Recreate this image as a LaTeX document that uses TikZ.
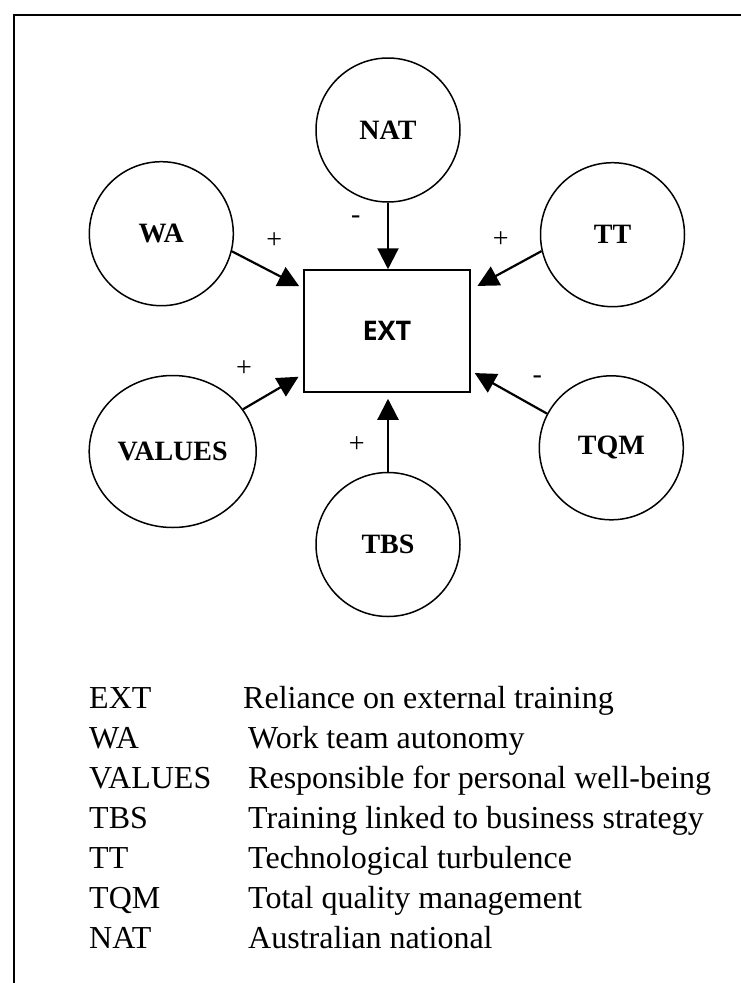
\documentclass[tikz,border=0pt]{standalone}
\usepackage{fontspec}
\setmainfont{Liberation Serif}
\newfontfamily\boxfont{Open Sans}
\usetikzlibrary{arrows.meta,shapes.geometric}

\tikzset{
  factor/.style={draw, circle, line width=1.5pt, minimum size=144pt, inner sep=0pt,
    font=\fontsize{28}{30}\selectfont\bfseries},
  factorwide/.style={draw, ellipse, line width=1.5pt, minimum width=167pt,
    minimum height=152pt, inner sep=0pt, font=\fontsize{28}{30}\selectfont\bfseries},
  target/.style={draw, rectangle, line width=1.5pt, minimum width=166pt,
    minimum height=122pt, inner sep=0pt, font=\boxfont\fontsize{27}{30}\selectfont\bfseries},
  effect/.style={-{Triangle[length=21pt,width=21pt]}, line width=2.2pt},
  sign/.style={font=\fontsize{28}{30}\selectfont, inner sep=0pt},
  abbr/.style={anchor=base west, inner sep=0pt, font=\fontsize{32}{34}\selectfont},
  descr/.style={anchor=base west, inner sep=0pt, font=\fontsize{32}{34}\selectfont},
}

\begin{document}
\begin{tikzpicture}[x=1pt,y=-1pt]
  \useasboundingbox (0,0) rectangle (741,983);

  % open frame: top and left edges only
  \draw[line width=1.8pt] (14,983) -- (14,15) -- (741,15);

  % central construct and its antecedents
  \node[target]     (EXT)    at (387,331)     {EXT};
  \node[factor]     (NAT)    at (388,130)     {NAT};
  \node[factor]     (WA)     at (161.3,233.7) {WA};
  \node[factor]     (TT)     at (612.5,234.7) {TT};
  \node[factorwide] (VALUES) at (172.7,451.5) {VALUES};
  \node[factor]     (TQM)    at (611.3,447.8) {TQM};
  \node[factor]     (TBS)    at (388,544.5)   {TBS};

  % paths into EXT
  \draw[effect] (NAT.south) -- (NAT.south |- EXT.north);
  \draw[effect] (WA.-14) -- ([shift={(-4,17)}]EXT.north west);
  \draw[effect] (TT.193) -- ([shift={(6.7,16.7)}]EXT.north east);
  \draw[effect] (VALUES.31) -- ([shift={(-4.7,-16)}]EXT.south west);
  \draw[effect] (TQM.152) -- ([shift={(4,-19.7)}]EXT.south east);
  \draw[effect, shorten >=6pt] (TBS.north) -- (TBS.north |- EXT.south);

  % signs of the effects
  \node[sign] (sNAT)    at (355.7,220)   {-};
  \node[sign] (sWA)     at (274.3,240.7) {+};
  \node[sign] (sTT)     at (500.7,240)   {+};
  \node[sign] (sVALUES) at (244,368.3)   {+};
  \node[sign] (sTQM)    at (537.3,380)   {-};
  \node[sign] (sTBS)    at (356.7,444.3) {+};

  % legend
  \node[abbr]  (lEXT) at (89,708) {EXT};
  \node[descr] (dEXT) at (243,708) {Reliance on external training};
  \node[abbr]  (lWA) at (89,748) {WA};
  \node[descr] (dWA) at (248,748) {Work team autonomy};
  \node[abbr]  (lVALUES) at (89,788) {VALUES};
  \node[descr] (dVALUES) at (248,788) {Responsible for personal well-being};
  \node[abbr]  (lTBS) at (89,828) {TBS};
  \node[descr] (dTBS) at (248,828) {Training linked to business strategy};
  \node[abbr]  (lTT) at (89,868) {TT};
  \node[descr] (dTT) at (248,868) {Technological turbulence};
  \node[abbr]  (lTQM) at (89,908) {TQM};
  \node[descr] (dTQM) at (248,908) {Total quality management};
  \node[abbr]  (lNAT) at (89,948) {NAT};
  \node[descr] (dNAT) at (248,948) {Australian national};
\end{tikzpicture}
\end{document}
